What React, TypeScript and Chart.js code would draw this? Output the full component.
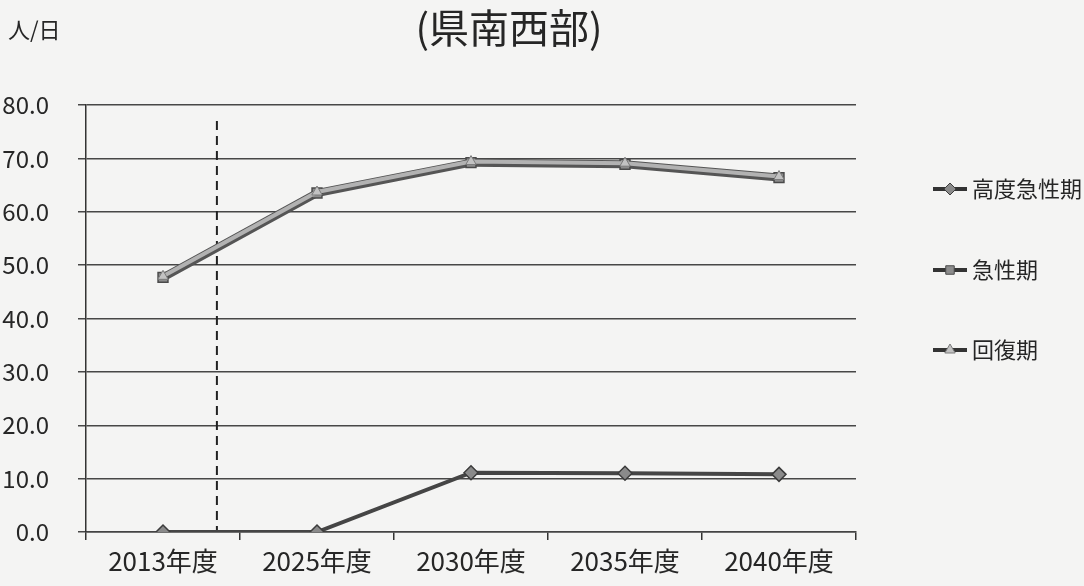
import React, { useEffect, useRef } from "react";
import { Chart, registerables } from "chart.js";
import { drawPoint } from "chart.js/helpers";

Chart.register(...registerables);

// 推計値（人/日）
const categories = ["2013年度", "2025年度", "2030年度", "2035年度", "2040年度"];
const seriesNames = ["高度急性期", "急性期", "回復期"];
const highAcute = [0, 0, 11.1, 11.0, 10.8];
const acute = [47.7, 63.5, 69.2, 68.9, 66.4];
const recovery = [47.9, 63.7, 69.4, 69.1, 66.6];
const yMin = 0;
const yMax = 80;
const yStep = 10;
const titleText = "(県南西部)";
const unitText = "人/日";
// 実績と推計の境目（カテゴリ位置）
const dividerAt = 0.35;

const FONT = "'Noto Sans CJK JP', 'Noto Sans', sans-serif";
const TEXT = "#262626";

const backgroundPlugin = {
  id: "pageBackground",
  beforeDraw(chart: any) {
    const { ctx, width, height } = chart;
    ctx.save();
    ctx.fillStyle = "#f4f4f3";
    ctx.fillRect(0, 0, width, height);
    ctx.restore();
  },
};

const dividerPlugin = {
  id: "dividerLine",
  beforeDatasetsDraw(chart: any) {
    const { ctx, chartArea, scales } = chart;
    const x = scales.x.getPixelForValue(dividerAt);
    ctx.save();
    ctx.strokeStyle = "#222";
    ctx.lineWidth = 2;
    ctx.setLineDash([9, 6]);
    ctx.beginPath();
    ctx.moveTo(x, chartArea.top + 16);
    ctx.lineTo(x, chartArea.bottom);
    ctx.stroke();
    ctx.restore();
  },
};

const headingPlugin = {
  id: "headings",
  afterDraw(chart: any) {
    const { ctx } = chart;
    ctx.save();
    ctx.fillStyle = TEXT;
    ctx.textBaseline = "middle";
    ctx.textAlign = "center";
    ctx.font = `40px ${FONT}`;
    ctx.fillText(titleText, 509, 28);
    ctx.textAlign = "left";
    ctx.font = `22px ${FONT}`;
    ctx.fillText(unitText, 8, 30);
    ctx.restore();
  },
};

const sideLegendPlugin = {
  id: "sideLegend",
  afterDraw(chart: any) {
    const { ctx } = chart;
    const rows = [189, 270, 350];
    ctx.save();
    chart.data.datasets.forEach((ds: any, i: number) => {
      const y = rows[i];
      const x0 = 933;
      const x1 = 967;
      ctx.strokeStyle = ds.legendLine;
      ctx.lineWidth = 4;
      ctx.setLineDash([]);
      ctx.beginPath();
      ctx.moveTo(x0, y);
      ctx.lineTo(x1, y);
      ctx.stroke();
      ctx.fillStyle = ds.pointBackgroundColor;
      ctx.strokeStyle = ds.pointBorderColor;
      ctx.lineWidth = 1;
      drawPoint(ctx, { pointStyle: ds.pointStyle, radius: 6, rotation: 0, borderWidth: 1 }, (x0 + x1) / 2, y);
      ctx.fillStyle = TEXT;
      ctx.font = `22px ${FONT}`;
      ctx.textAlign = "left";
      ctx.textBaseline = "middle";
      ctx.fillText(ds.label, 972, y);
    });
    ctx.restore();
  },
};

export default function App() {
  const canvasRef = useRef<HTMLCanvasElement | null>(null);

  useEffect(() => {
    if (!canvasRef.current) return;
    const chart = new Chart(canvasRef.current, {
      type: "line",
      data: {
        labels: categories,
        datasets: [
          {
            label: seriesNames[0],
            data: highAcute,
            borderColor: "#454545",
            borderWidth: 4,
            pointStyle: "rectRot",
            pointRadius: 7,
            pointBackgroundColor: "#8a8a8a",
            pointBorderColor: "#3c3c3c",
            pointBorderWidth: 1.5,
            legendLine: "#333",
            order: 0,
          } as any,
          {
            label: seriesNames[1],
            data: acute,
            borderColor: "#555555",
            borderWidth: 8,
            pointStyle: "rect",
            pointRadius: 7,
            pointBackgroundColor: "#8c8c8c",
            pointBorderColor: "#4a4a4a",
            pointBorderWidth: 1.5,
            legendLine: "#333",
            order: 2,
          } as any,
          {
            label: seriesNames[2],
            data: recovery,
            borderColor: "#b2b2b2",
            borderWidth: 4,
            pointStyle: "triangle",
            pointRadius: 6,
            pointBackgroundColor: "#c2c2c2",
            pointBorderColor: "#7a7a7a",
            pointBorderWidth: 1,
            legendLine: "#333",
            order: 1,
          } as any,
        ],
      },
      options: {
        animation: false,
        responsive: false,
        devicePixelRatio: 1,
        layout: { padding: { left: 0, right: 228, top: 105, bottom: 0 } },
        plugins: {
          legend: { display: false },
          tooltip: { enabled: false },
          title: { display: false },
        },
        scales: {
          x: {
            type: "category",
            offset: true,
            grid: {
              display: true,
              offset: true,
              drawOnChartArea: false,
              drawTicks: true,
              tickLength: 8,
              color: "#333",
              lineWidth: 1.5,
            },
            border: { display: true, color: "#444", width: 1.5 },
            ticks: {
              color: TEXT,
              font: { family: FONT, size: 26 },
              padding: 6,
              maxRotation: 0,
              autoSkip: false,
            },
            afterFit(scale: any) {
              scale.height = 54;
            },
          },
          y: {
            min: yMin,
            max: yMax,
            ticks: {
              stepSize: yStep,
              color: TEXT,
              font: { family: FONT, size: 24 },
              padding: 29,
              callback: (v: any) => Number(v).toFixed(1),
            },
            grid: {
              color: "#474747",
              lineWidth: 1.5,
              tickLength: 8,
            },
            border: { display: true, color: "#333", width: 1.5 },
            afterFit(scale: any) {
              scale.width = 86;
            },
          },
        },
      },
      plugins: [backgroundPlugin, dividerPlugin, headingPlugin, sideLegendPlugin],
    });
    return () => chart.destroy();
  }, []);

  return (
    <div style={{ position: "fixed", left: 0, top: 0, width: 1084, height: 586, background: "#f4f4f3" }}>
      <canvas ref={canvasRef} width={1084} height={586} style={{ display: "block" }} />
    </div>
  );
}
